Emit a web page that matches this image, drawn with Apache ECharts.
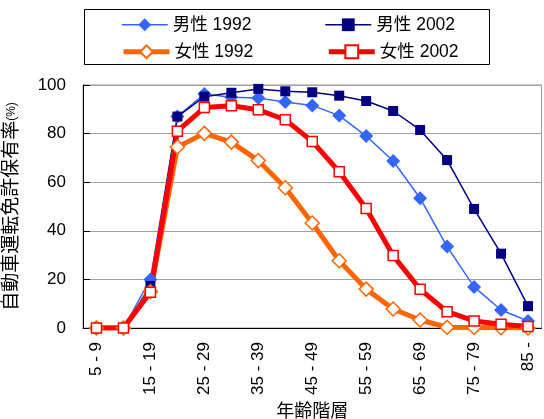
<!DOCTYPE html>
<html><head><meta charset="utf-8">
<script src="https://cdn.jsdelivr.net/npm/echarts@6/dist/echarts.min.js"></script>
<style>html,body{margin:0;padding:0;background:#fff}#c{width:544px;height:419px}</style>
</head><body><div id="c"></div>
<script>
const categories = ['5 - 9','10 - 14','15 - 19','20 - 24','25 - 29','30 - 34','35 - 39','40 - 44','45 - 49','50 - 54','55 - 59','60 - 64','65 - 69','70 - 74','75 - 79','80 - 84','85 -'];
const male1992   = [0, 0, 20, 87, 96.3, 95, 94.6, 93, 91.6, 87.4, 79, 68.7, 53.4, 33.5, 16.9, 7.4, 2.9];
const male2002   = [0, 0, 17.3, 87, 95.2, 96.8, 98.4, 97.4, 97, 95.6, 93.4, 89.3, 81.5, 69.1, 49, 30.6, 9];
const female1992 = [0, 0, 15, 74.5, 80.1, 76.5, 68.9, 57.7, 43.2, 27.7, 16, 7.8, 3.3, 0.3, 0.2, 0.1, 0];
const female2002 = [0, 0, 14.7, 81, 90.7, 91.5, 89.8, 85.7, 76.8, 64.3, 49.2, 29.8, 15.9, 6.7, 2.9, 1.5, 0.6];
const yTicks = [0, 20, 40, 60, 80, 100];

const FONT = '"Liberation Sans", "Noto Sans CJK JP", sans-serif';
const chart = echarts.init(document.getElementById('c'), null, {renderer: 'canvas'});
const legendText = {fontSize: 17.5, color: '#000', fontFamily: FONT, width: 80};
chart.setOption({
  animation: false,
  textStyle: {fontFamily: FONT},
  graphic: [{type: 'rect', shape: {x: 84.5, y: 9.5, width: 405, height: 55}, style: {fill: 'none', stroke: '#000', lineWidth: 1}, z: 10}],
  legend: [
    {data: [{name: '男性 1992', lineStyle: {width: 1.5}}, {name: '男性 2002', lineStyle: {width: 1.5}}],
      left: 121, top: 16, padding: 0, itemWidth: 46, itemHeight: 16, itemGap: 73, textStyle: legendText},
    {data: [{name: '女性 1992', lineStyle: {width: 5}}, {name: '女性 2002', lineStyle: {width: 5}}],
      left: 121, top: 43, padding: 0, itemWidth: 46, itemHeight: 16, itemGap: 73, textStyle: legendText}
  ],
  grid: {left: 83, right: 2.5, top: 85, bottom: 91, show: true, borderColor: '#999', borderWidth: 1, outerBoundsMode: 'none', containLabel: false},
  xAxis: {
    type: 'category', data: categories, boundaryGap: true,
    axisLine: {lineStyle: {color: '#000', width: 1}},
    axisTick: {inside: true, length: 7, interval: 0, lineStyle: {color: '#000'}},
    axisLabel: {rotate: 90, interval: 1, margin: 14, fontSize: 17, color: '#000', fontFamily: FONT},
    name: '年齢階層', nameLocation: 'middle', nameGap: 70,
    nameTextStyle: {fontSize: 18, color: '#000', fontFamily: FONT}
  },
  yAxis: {
    type: 'value', min: 0, max: 100, interval: 20,
    axisLine: {show: true, lineStyle: {color: '#000', width: 1}},
    axisTick: {show: true, inside: true, length: 7, lineStyle: {color: '#000'}},
    axisLabel: {fontSize: 17, color: '#000', margin: 17, fontFamily: FONT,
      formatter: v => yTicks.includes(v) ? String(v) : ''},
    splitLine: {lineStyle: {color: '#a0a0a0', width: 1}},
    name: '{a|自動車運転免許保有率}{b|(%)}', nameLocation: 'middle', nameGap: 62, nameRotate: 90,
    nameTextStyle: {color: '#000', rich: {a: {fontSize: 19, fontFamily: FONT, color: '#000'}, b: {fontSize: 12, fontFamily: FONT, color: '#000'}}}
  },
  series: [
    {name: '男性 1992', type: 'line', data: male1992, symbol: 'diamond', symbolSize: 14,
      lineStyle: {color: '#3366FF', width: 1.5}, itemStyle: {color: '#3366FF'}},
    {name: '男性 2002', type: 'line', data: male2002, symbol: 'rect', symbolSize: 10,
      lineStyle: {color: '#000080', width: 1.5}, itemStyle: {color: '#000080'}},
    {name: '女性 1992', type: 'line', data: female1992, symbol: 'diamond', symbolSize: 14,
      lineStyle: {color: '#FF6600', width: 5}, itemStyle: {color: '#fff', borderColor: '#FF6600', borderWidth: 1.5}},
    {name: '女性 2002', type: 'line', data: female2002, symbol: 'rect', symbolSize: 10,
      lineStyle: {color: '#FF0000', width: 5}, itemStyle: {color: '#fff', borderColor: '#FF0000', borderWidth: 1.5}}
  ]
});
</script></body></html>
